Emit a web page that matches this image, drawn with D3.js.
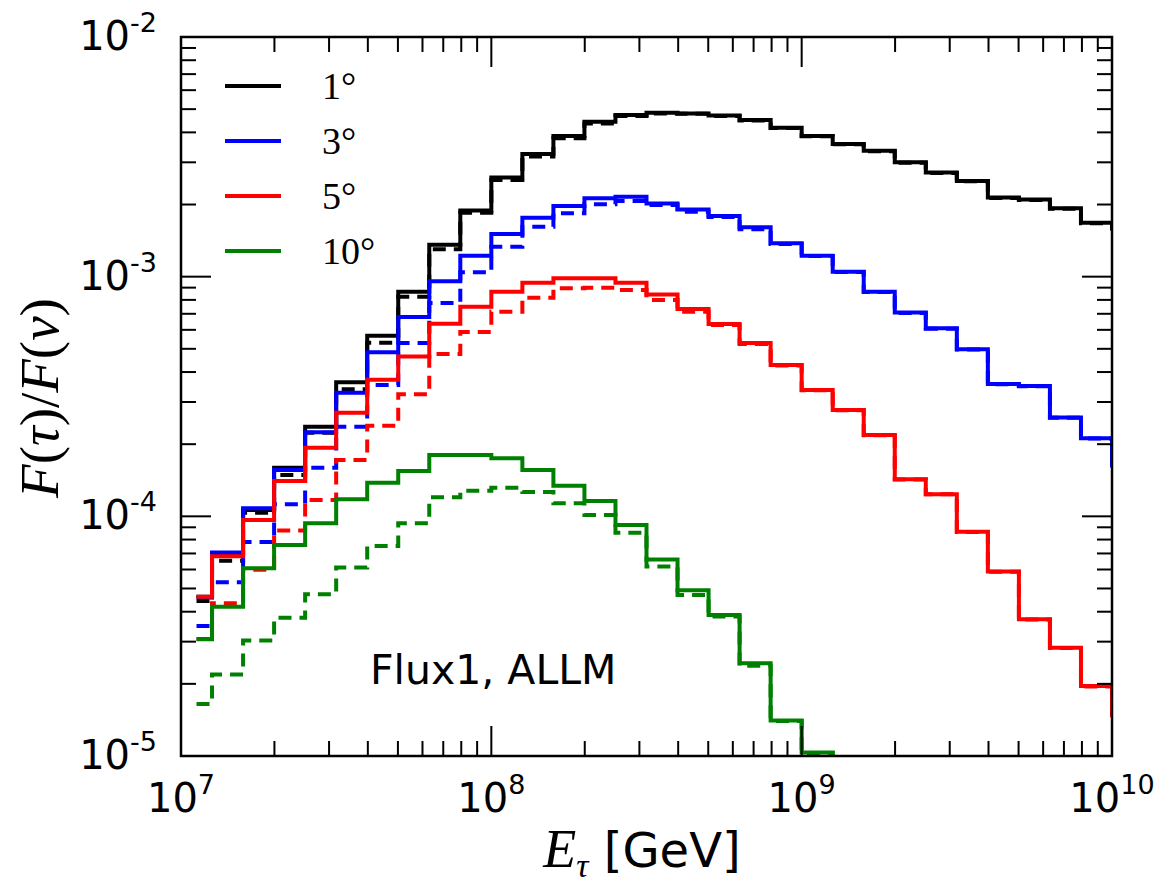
<!DOCTYPE html>
<html>
<head>
<meta charset="utf-8">
<script src="https://cdn.jsdelivr.net/npm/d3@7"></script>
<style>
  html, body { margin: 0; padding: 0; background: #fff; }
  svg { display: block; }
</style>
</head>
<body>
<svg id="chart" width="1175" height="893"></svg>
<script>
// ---------------- DATA ----------------
// log10 of bin-centre energies (GeV); histogram drawn as mid-steps
const logE = [7.05, 7.15, 7.25, 7.35, 7.45, 7.55, 7.65, 7.75, 7.85, 7.95,
              8.05, 8.15, 8.25, 8.35, 8.45, 8.55, 8.65, 8.75, 8.85, 8.95,
              9.05, 9.15, 9.25, 9.35, 9.45, 9.55, 9.65, 9.75, 9.85, 9.95, 10.05];

const angles = ["1°", "3°", "5°", "10°"];
const colors = ["#000000", "#0000ff", "#ff0000", "#008000"];

const deg1Solid = [4.62e-5, 7.03e-5, 1.064e-4, 1.596e-4, 2.366e-4, 3.63e-4, 5.67e-4, 8.66e-4, 1.36e-3, 1.89e-3,
                   2.59e-3, 3.25e-3, 3.86e-3, 4.43e-3, 4.73e-3, 4.83e-3, 4.80e-3, 4.70e-3, 4.50e-3, 4.18e-3,
                   3.86e-3, 3.58e-3, 3.35e-3, 3.00e-3, 2.72e-3, 2.51e-3, 2.14e-3, 2.10e-3, 1.93e-3, 1.68e-3, 1.60e-3];
const deg1Dashed = [4.43e-5, 6.53e-5, 1.036e-4, 1.489e-4, 2.23e-4, 3.39e-4, 5.30e-4, 8.24e-4, 1.30e-3, 1.85e-3,
                   2.53e-3, 3.17e-3, 3.78e-3, 4.36e-3, 4.68e-3, 4.80e-3, 4.78e-3, 4.68e-3, 4.48e-3, 4.17e-3,
                   3.85e-3, 3.57e-3, 3.34e-3, 2.99e-3, 2.71e-3, 2.50e-3, 2.13e-3, 2.09e-3, 1.92e-3, 1.67e-3, 1.59e-3];

const deg3Solid = [4.6e-5, 7.06e-5, 1.08e-4, 1.562e-4, 2.243e-4, 3.28e-4, 4.84e-4, 6.79e-4, 9.57e-4, 1.222e-3,
                   1.507e-3, 1.762e-3, 1.972e-3, 2.124e-3, 2.157e-3, 2.02e-3, 1.906e-3, 1.79e-3, 1.609e-3, 1.378e-3,
                   1.224e-3, 1.049e-3, 8.66e-4, 7.08e-4, 6.09e-4, 4.98e-4, 3.57e-4, 3.50e-4, 2.585e-4, 2.117e-4, 1.64e-4];
const deg3Dashed = [3.49e-5, 5.31e-5, 7.82e-5, 1.123e-4, 1.596e-4, 2.366e-4, 3.53e-4, 5.29e-4, 7.77e-4, 1.043e-3,
                   1.334e-3, 1.617e-3, 1.838e-3, 2.004e-3, 2.069e-3, 1.991e-3, 1.866e-3, 1.774e-3, 1.577e-3, 1.370e-3,
                   1.220e-3, 1.046e-3, 8.64e-4, 7.06e-4, 6.07e-4, 4.97e-4, 3.56e-4, 3.49e-4, 2.58e-4, 2.11e-4, 1.63e-4];

const deg5Solid = [4.62e-5, 6.82e-5, 9.66e-5, 1.405e-4, 1.935e-4, 2.707e-4, 3.71e-4, 4.64e-4, 6.36e-4, 7.49e-4,
                   8.66e-4, 9.44e-4, 9.85e-4, 9.85e-4, 9.44e-4, 8.43e-4, 7.33e-4, 6.35e-4, 5.29e-4, 4.28e-4,
                   3.37e-4, 2.78e-4, 2.186e-4, 1.428e-4, 1.237e-4, 8.63e-5, 5.88e-5, 3.72e-5, 2.83e-5, 1.96e-5, 1.48e-5];
const deg5Dashed = [3.08e-5, 4.34e-5, 5.99e-5, 8.72e-5, 1.17e-4, 1.72e-4, 2.39e-4, 3.23e-4, 4.76e-4, 5.87e-4,
                   7.14e-4, 8.17e-4, 8.95e-4, 9.00e-4, 8.80e-4, 8.00e-4, 7.14e-4, 6.29e-4, 5.24e-4, 4.26e-4,
                   3.36e-4, 2.77e-4, 2.18e-4, 1.425e-4, 1.235e-4, 8.61e-5, 5.87e-5, 3.71e-5, 2.82e-5, 1.95e-5, 1.47e-5];

const deg10Solid = [3.07e-5, 4.20e-5, 6.07e-5, 7.60e-5, 9.36e-5, 1.178e-4, 1.382e-4, 1.547e-4, 1.804e-4, 1.804e-4,
                    1.748e-4, 1.562e-4, 1.343e-4, 1.159e-4, 9.21e-5, 6.60e-5, 4.91e-5, 3.88e-5, 2.44e-5, 1.405e-5,
                    1.033e-5, 7.0e-6, 4.6e-6, 3.0e-6, 2.0e-6, 1.3e-6, 8.0e-7, 5.0e-7, 3.0e-7, 2.0e-7, 1.0e-7];
const deg10Dashed = [1.65e-5, 2.19e-5, 3.03e-5, 3.77e-5, 4.73e-5, 6.11e-5, 7.52e-5, 9.36e-5, 1.20e-4, 1.28e-4,
                    1.317e-4, 1.264e-4, 1.134e-4, 1.013e-4, 8.55e-5, 6.17e-5, 4.70e-5, 3.82e-5, 2.38e-5, 1.40e-5,
                    1.03e-5, 7.0e-6, 4.6e-6, 3.0e-6, 2.0e-6, 1.3e-6, 8.0e-7, 5.0e-7, 3.0e-7, 2.0e-7, 1.0e-7];

const xTickExps = [7, 8, 9, 10];
const yTickExps = [-2, -3, -4, -5];
const annotation = "Flux1, ALLM";

// ---------------- LAYOUT ----------------
const svg = d3.select("#chart");
const L = 181, R = 1112, T = 37, B = 756;
const x = d3.scaleLog().domain([1e7, 1e10]).range([L, R]);
const y = d3.scaleLog().domain([1e-5, 1e-2]).range([B, T]);

svg.append("defs").append("clipPath").attr("id", "clip")
  .append("rect").attr("x", L).attr("y", T).attr("width", R - L).attr("height", B - T);

const series = [
  { vals: deg1Solid, color: colors[0], dash: null },
  { vals: deg1Dashed, color: colors[0], dash: "13,8" },
  { vals: deg3Solid, color: colors[1], dash: null },
  { vals: deg3Dashed, color: colors[1], dash: "13,8" },
  { vals: deg5Solid, color: colors[2], dash: null },
  { vals: deg5Dashed, color: colors[2], dash: "13,8" },
  { vals: deg10Solid, color: colors[3], dash: null },
  { vals: deg10Dashed, color: colors[3], dash: "13,8" }
];

const line = d3.line()
  .x(d => x(Math.pow(10, d[0])))
  .y(d => y(d[1]))
  .curve(d3.curveStep);

const g = svg.append("g").attr("clip-path", "url(#clip)");
series.forEach(s => {
  g.append("path")
    .datum(logE.map((e, i) => [e, s.vals[i]]))
    .attr("d", line)
    .attr("fill", "none")
    .attr("stroke", s.color)
    .attr("stroke-width", 4)
    .attr("stroke-linejoin", "miter")
    .attr("stroke-dasharray", s.dash);
});

// ---------------- AXES / TICKS ----------------
const axG = svg.append("g").attr("stroke", "#000").attr("stroke-width", 2);
const xt = x.ticks();
const yt = y.ticks();
const isMajor = v => Math.abs(Math.log10(v) - Math.round(Math.log10(v))) < 1e-6;
xt.forEach(v => {
  const len = isMajor(v) ? 30 : 15;
  const px = x(v);
  if (px <= L + 0.5 || px >= R - 0.5) return;
  axG.append("line").attr("x1", px).attr("x2", px).attr("y1", B).attr("y2", B - len);
  axG.append("line").attr("x1", px).attr("x2", px).attr("y1", T).attr("y2", T + len);
});
yt.forEach(v => {
  const len = isMajor(v) ? 30 : 15;
  const py = y(v);
  if (py <= T + 0.5 || py >= B - 0.5) return;
  axG.append("line").attr("y1", py).attr("y2", py).attr("x1", L).attr("x2", L + len);
  axG.append("line").attr("y1", py).attr("y2", py).attr("x1", R).attr("x2", R - len);
});
svg.append("rect").attr("x", L).attr("y", T).attr("width", R - L).attr("height", B - T)
  .attr("fill", "none").attr("stroke", "#000").attr("stroke-width", 2.5);

// tick labels
const sans = "'DejaVu Sans', sans-serif";
xTickExps.forEach(e => {
  const t = svg.append("text")
    .attr("x", x(Math.pow(10, e)))
    .attr("y", 812)
    .attr("text-anchor", "middle")
    .attr("font-family", sans)
    .attr("font-size", 40);
  t.append("tspan").text("10");
  t.append("tspan").attr("font-size", 27).attr("dy", -18).text(String(e));
});
yTickExps.forEach(e => {
  const t = svg.append("text")
    .attr("x", 157)
    .attr("y", y(Math.pow(10, e)) + 13)
    .attr("text-anchor", "end")
    .attr("font-family", sans)
    .attr("font-size", 40);
  t.append("tspan").text("10");
  t.append("tspan").attr("font-size", 27).attr("dy", -18).text("-" + String(-e));
});

// axis labels
const serif = "'Liberation Serif', 'DejaVu Serif', serif";
const xl = svg.append("text")
  .attr("x", 642).attr("y", 867)
  .attr("text-anchor", "middle")
  .attr("font-size", 48);
xl.append("tspan").attr("font-family", serif).attr("font-style", "italic").attr("font-size", 54).text("E");
xl.append("tspan").attr("font-family", serif).attr("font-style", "italic").attr("font-size", 34).attr("dy", 10).text("τ");
xl.append("tspan").attr("font-family", sans).attr("dy", -10).text(" [GeV]");

const yl = svg.append("text")
  .attr("transform", "translate(58,398) rotate(-90)")
  .attr("text-anchor", "middle")
  .attr("font-family", serif)
  .attr("font-size", 55);
[["F", true], ["(", false], ["τ", true], [")", false], ["/", false], ["F", true], ["(", false], ["ν", true], [")", false]]
  .forEach(([s, it]) => yl.append("tspan").attr("font-style", it ? "italic" : "normal").text(s));

// legend
const legY = [86, 141, 196, 251];
angles.forEach((a, i) => {
  svg.append("line")
    .attr("x1", 225).attr("x2", 281)
    .attr("y1", legY[i]).attr("y2", legY[i])
    .attr("stroke", colors[i]).attr("stroke-width", 4);
  svg.append("text")
    .attr("x", 322).attr("y", legY[i] + 13)
    .attr("font-family", serif)
    .attr("font-size", 38)
    .text(a);
});

// annotation
svg.append("text")
  .attr("x", 370).attr("y", 684)
  .attr("font-family", sans)
  .attr("font-size", 41)
  .text(annotation);
</script>
</body>
</html>
